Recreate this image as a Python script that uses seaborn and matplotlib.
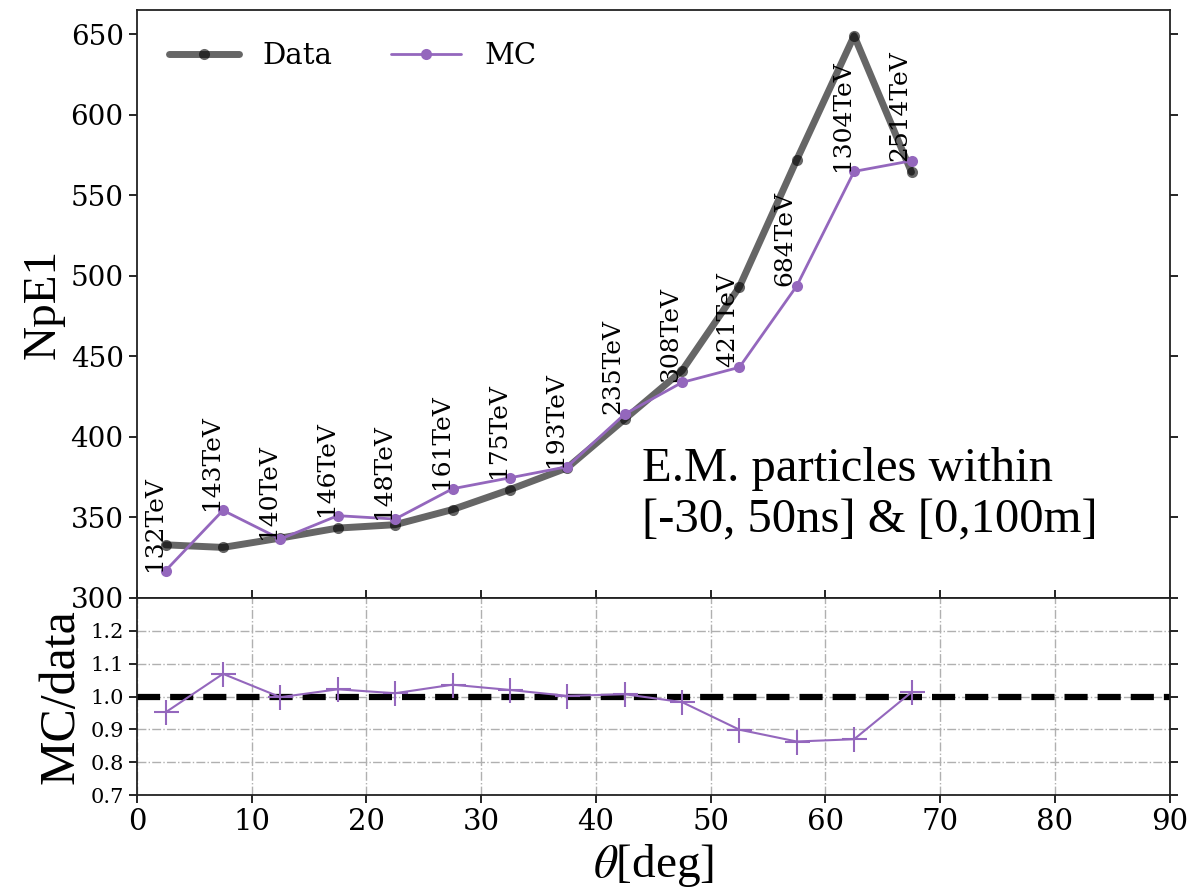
"""
NpE1 vs zenith angle, data vs MC with ratio panel
"""

import matplotlib
matplotlib.use("Agg")
import matplotlib.pyplot as plt
import pandas as pd
import seaborn as sns

# === Values ===
theta = [2.5, 7.5, 12.5, 17.5, 22.5, 27.5, 32.5, 37.5, 42.5, 47.5, 52.5, 57.5, 62.5, 67.5]
npe_data = [333.0, 331.4, 337.2, 343.4, 345.5, 354.9, 367.3, 380.8, 411.0, 441.1, 493.1, 572.0, 649.0, 564.3]
npe_mc = [317.0, 354.4, 336.6, 351.1, 349.0, 367.8, 374.6, 381.5, 414.1, 433.8, 443.2, 493.7, 564.8, 571.4]
ratio = [0.952, 1.069, 0.998, 1.022, 1.010, 1.036, 1.020, 1.002, 1.007, 0.983, 0.899, 0.863, 0.870, 1.013]
energy_labels = ["132TeV", "143TeV", "140TeV", "146TeV", "148TeV", "161TeV", "175TeV",
                 "193TeV", "235TeV", "308TeV", "421TeV", "684TeV", "1304TeV", "2514TeV"]

MC_COLOR = "#9467bd"
TIMES = ["Liberation Serif", "DejaVu Serif"]

sns.set_style("ticks")
plt.rcParams["font.family"] = ["DejaVu Serif"]
plt.rcParams["mathtext.fontset"] = "stix"
for key in ("text.color", "axes.labelcolor", "xtick.color", "ytick.color"):
    plt.rcParams[key] = "black"

df = pd.DataFrame({"theta": theta, "data": npe_data, "mc": npe_mc, "ratio": ratio})

fig = plt.figure(figsize=(11.96, 8.92), dpi=100)
ax = fig.add_axes([0.1145, 0.3296, 0.8635, 0.6592])
axr = fig.add_axes([0.1145, 0.1087, 0.8635, 0.2209], sharex=ax)

# --- top panel ---
sns.lineplot(data=df, x="theta", y="data", ax=ax, color="k", alpha=0.6, lw=5,
             marker="o", markersize=8, markeredgewidth=0, label="Data")
sns.lineplot(data=df, x="theta", y="mc", ax=ax, color=MC_COLOR, lw=2,
             marker="o", markersize=8, markeredgewidth=0, label="MC")

for x, y, lab in zip(theta, npe_mc, energy_labels):
    ax.text(x, y, lab, rotation=90, ha="right", va="bottom", fontsize=18)

ax.text(44.0, 364, "E.M. particles within\n[-30, 50ns] & [0,100m]",
        family=TIMES, fontsize=35, ha="left", va="center", linespacing=1.2)

ax.legend(loc="upper left", ncol=2, frameon=False, fontsize=21, borderaxespad=0.7,
          handlelength=2.4, handletextpad=0.8, columnspacing=2.0)
ax.set_ylim(300, 665)
ax.set_yticks(range(300, 651, 50))
ax.set_xlim(0, 90)
ax.set_ylabel("NpE1", family=TIMES, fontsize=34)
ax.set_xlabel("")
ax.tick_params(axis="y", labelsize=20, length=6, width=1.2, right=True)
ax.tick_params(axis="x", direction="in", length=6, width=1.2, labelbottom=False)

# --- ratio panel ---
axr.axhline(1.0, color="k", ls="--", lw=4.5, zorder=2)
sns.lineplot(data=df, x="theta", y="ratio", ax=axr, color=MC_COLOR, lw=1.5,
             marker="+", markersize=18, markeredgewidth=1.5,
             markeredgecolor=MC_COLOR, zorder=3)
axr.set_ylim(0.7, 1.3)
axr.set_yticks([0.7, 0.8, 0.9, 1.0, 1.1, 1.2])
axr.set_xticks(range(0, 91, 10))
axr.grid(True, ls="-.", color="#b0b0b0", lw=1.0)
axr.set_ylabel("MC/data", family=TIMES, fontsize=36)
axr.set_xlabel(r"$\theta$[deg]", family=TIMES, fontsize=34)
axr.tick_params(axis="y", labelsize=15, length=6, width=1.2, right=True)
axr.tick_params(axis="x", labelsize=21, length=6, width=1.2)

for a in (ax, axr):
    for s in a.spines.values():
        s.set_linewidth(1.3)
        s.set_color("#222222")

fig.savefig("out.png", dpi=100)
